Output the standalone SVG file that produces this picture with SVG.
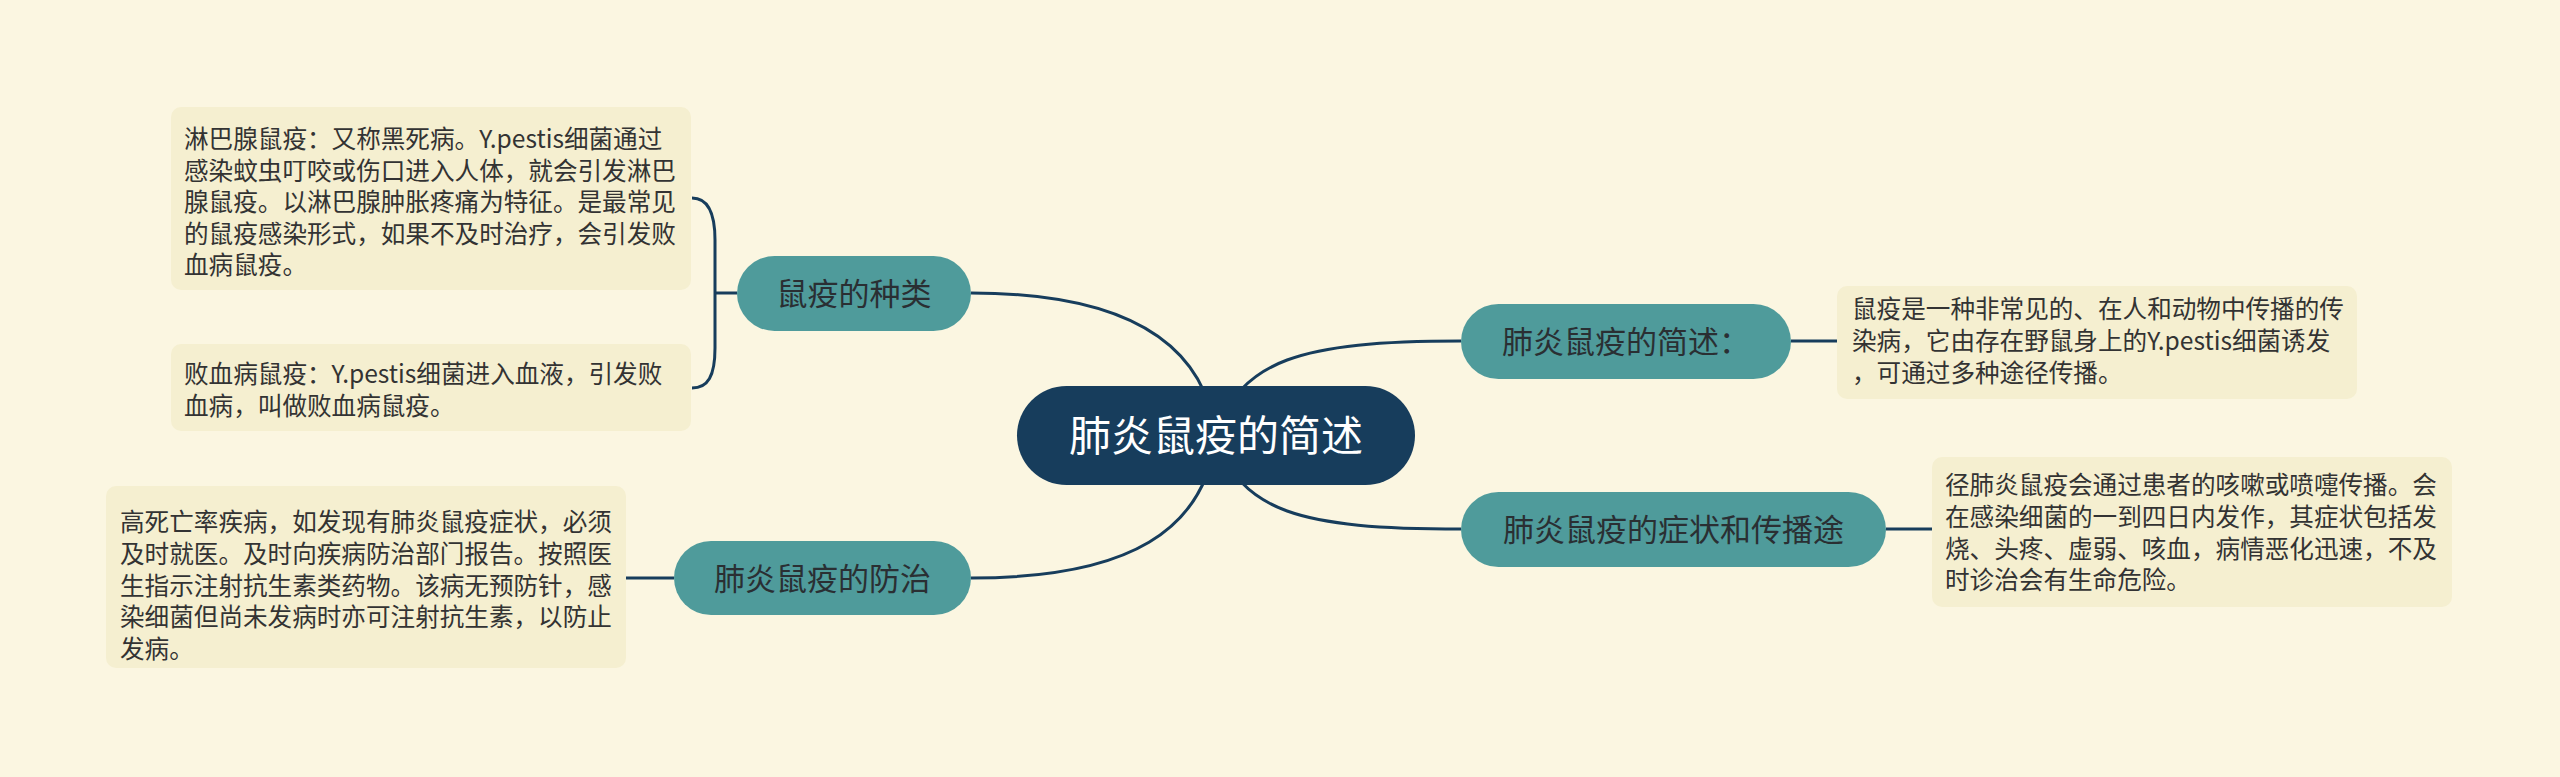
<svg xmlns="http://www.w3.org/2000/svg" width="2560" height="777" viewBox="0 0 2560 777">
<style>
.bg{fill:#fbf6e1}
.conn{fill:none;stroke:#173d5c;stroke-width:3}
.root{fill:#173d5c}
.branch{fill:#4f9b9b}
.box{fill:#f5efd0}
.t{font-family:"Noto Sans CJK SC","Noto Sans",sans-serif}
.rt{font-size:42px;fill:#ffffff;text-anchor:middle}
.bt{font-size:31px;fill:#2a2f33;text-anchor:middle}
.lt{font-size:24.6px;fill:#333333}
</style>
<rect class="bg" x="0" y="0" width="2560" height="777"/>
<g id="connectors">
<path class="conn" d="M1216,436 C1205,345 1130,293 971,293"/>
<path class="conn" d="M1216,436 C1205,530 1130,578 971,578"/>
<path class="conn" d="M1216,436 C1240,360 1300,341 1461,341"/>
<path class="conn" d="M1216,436 C1240,512 1300,529 1461,529"/>
<path class="conn" d="M1791,341 L1837,341"/>
<path class="conn" d="M1886,529 L1932,529"/>
<path class="conn" d="M674,578 L626,578"/>
<path class="conn" d="M737,293 L715,293"/>
<path class="conn" d="M692,198 C708,198 715,212 715,240 L715,348 C715,376 708,388 692,388"/>
</g>
<g id="root">
<rect class="root" x="1017" y="386" width="398" height="99" rx="49.5"/>
<text class="t rt" x="1216" y="451">肺炎鼠疫的简述</text>
</g>
<g id="n-types">
<rect class="branch" x="737" y="256" width="234" height="75" rx="37.5"/>
<text class="t bt" x="854" y="305">鼠疫的种类</text>
</g>
<g id="n-prevent">
<rect class="branch" x="674" y="541" width="297" height="74" rx="37"/>
<text class="t bt" x="822.5" y="590">肺炎鼠疫的防治</text>
</g>
<g id="n-summary">
<rect class="branch" x="1461" y="304" width="330" height="75" rx="37.5"/>
<text class="t bt" x="1626" y="353">肺炎鼠疫的简述：</text>
</g>
<g id="n-symptoms">
<rect class="branch" x="1461" y="492" width="425" height="75" rx="37.5"/>
<text class="t bt" x="1673.5" y="541">肺炎鼠疫的症状和传播途</text>
</g>
<g id="d-lymph">
<rect class="box" x="171" y="107" width="520" height="183" rx="10"/>
<text class="t lt" x="184">
<tspan x="184" y="148">淋巴腺鼠疫：又称黑死病。Y.pestis细菌通过</tspan>
<tspan x="184" y="179.6">感染蚊虫叮咬或伤口进入人体，就会引发淋巴</tspan>
<tspan x="184" y="211.2">腺鼠疫。以淋巴腺肿胀疼痛为特征。是最常见</tspan>
<tspan x="184" y="242.8">的鼠疫感染形式，如果不及时治疗，会引发败</tspan>
<tspan x="184" y="274.4">血病鼠疫。</tspan>
</text>
</g>
<g id="d-septic">
<rect class="box" x="171" y="344" width="520" height="87" rx="10"/>
<text class="t lt">
<tspan x="184" y="383">败血病鼠疫：Y.pestis细菌进入血液，引发败</tspan>
<tspan x="184" y="415">血病，叫做败血病鼠疫。</tspan>
</text>
</g>
<g id="d-summary">
<rect class="box" x="1837" y="286" width="520" height="113" rx="10"/>
<text class="t lt">
<tspan x="1852" y="318">鼠疫是一种非常见的、在人和动物中传播的传</tspan>
<tspan x="1852" y="350">染病，它由存在野鼠身上的Y.pestis细菌诱发</tspan>
<tspan x="1852" y="382">，可通过多种途径传播。</tspan>
</text>
</g>
<g id="d-symptoms">
<rect class="box" x="1932" y="457" width="520" height="150" rx="10"/>
<text class="t lt">
<tspan x="1945" y="494">径肺炎鼠疫会通过患者的咳嗽或喷嚏传播。会</tspan>
<tspan x="1945" y="526">在感染细菌的一到四日内发作，其症状包括发</tspan>
<tspan x="1945" y="558">烧、头疼、虚弱、咳血，病情恶化迅速，不及</tspan>
<tspan x="1945" y="589">时诊治会有生命危险。</tspan>
</text>
</g>
<g id="d-prevent">
<rect class="box" x="106" y="486" width="520" height="182" rx="10"/>
<text class="t lt">
<tspan x="120" y="531">高死亡率疾病，如发现有肺炎鼠疫症状，必须</tspan>
<tspan x="120" y="563">及时就医。及时向疾病防治部门报告。按照医</tspan>
<tspan x="120" y="595">生指示注射抗生素类药物。该病无预防针，感</tspan>
<tspan x="120" y="626">染细菌但尚未发病时亦可注射抗生素，以防止</tspan>
<tspan x="120" y="658">发病。</tspan>
</text>
</g>
</svg>
